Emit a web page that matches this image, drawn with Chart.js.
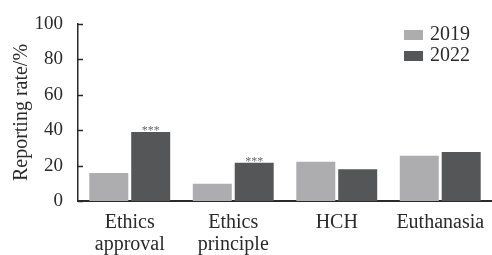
<!DOCTYPE html>
<html>
<head>
<meta charset="utf-8">
<script src="https://cdn.jsdelivr.net/npm/chart.js@4"></script>
<style>
html,body{margin:0;padding:0;background:#fff;}
#wrap{width:492px;height:255px;position:relative;}
</style>
</head>
<body>
<div id="wrap"><canvas id="c" width="492" height="255"></canvas></div>
<script>
const categories = [["Ethics","approval"],["Ethics","principle"],"HCH","Euthanasia"];
const seriesNames = ["2019","2022"];
const values2019 = [15.8, 9.8, 22.2, 25.6];
const values2022 = [39.0, 21.6, 18.0, 27.7];
const significance2022 = ["***","***","",""];
const yTicks = [0,20,40,60,80,100];

const colors = ["#adadaf","#555658"];
const FONT = "'Liberation Serif', 'Times New Roman', serif";
const TEXT = "#2a2a2a";

const customPlugin = {
  id: 'custom',
  afterDatasetsDraw(chart) {
    const ctx = chart.ctx;
    const ys = chart.scales.y;
    const area = chart.chartArea;
    ctx.save();
    ctx.strokeStyle = "#2a2a2a";
    ctx.lineWidth = 1.5;
    yTicks.forEach(v => {
      const py = Math.round(ys.getPixelForValue(v)) + 0.5;
      ctx.beginPath();
      ctx.moveTo(area.left, py);
      ctx.lineTo(area.left + 5, py);
      ctx.stroke();
    });
    const meta = chart.getDatasetMeta(1);
    ctx.fillStyle = "#6a6a6a";
    ctx.font = "12px " + FONT;
    ctx.textAlign = "center";
    ctx.textBaseline = "alphabetic";
    meta.data.forEach((bar, i) => {
      if (significance2022[i]) ctx.fillText(significance2022[i], bar.x, bar.y + 2);
    });
    ctx.font = "20px " + FONT;
    ctx.textAlign = "left";
    ctx.textBaseline = "middle";
    chart.data.datasets.forEach((ds, i) => {
      const y0 = 30 + i * 21;
      ctx.fillStyle = ds.backgroundColor;
      ctx.fillRect(404, y0, 19, 10);
      ctx.fillStyle = TEXT;
      ctx.fillText(ds.label, 430, y0 + 5);
    });
    ctx.restore();
  }
};

new Chart(document.getElementById('c'), {
  type: 'bar',
  data: {
    labels: categories,
    datasets: [
      { label: seriesNames[0], data: values2019, backgroundColor: colors[0] },
      { label: seriesNames[1], data: values2022, backgroundColor: colors[1] }
    ]
  },
  options: {
    responsive: false,
    animation: false,
    devicePixelRatio: 1,
    layout: { padding: { top: 24, right: 0, bottom: 0, left: 0 } },
    categoryPercentage: 0.81,
    barPercentage: 0.93,
    plugins: { legend: { display: false }, tooltip: { enabled: false } },
    scales: {
      x: {
        grid: { display: false },
        border: { display: true, color: "#2a2a2a", width: 2 },
        ticks: { color: TEXT, font: { family: FONT, size: 20, lineHeight: 1.1 }, padding: 3, maxRotation: 0, autoSkip: false },
        afterFit(s) { s.height = 54; }
      },
      y: {
        min: 0, max: 100,
        grid: { display: false },
        border: { display: true, color: "#2a2a2a", width: 1.5 },
        ticks: { stepSize: 20, color: TEXT, font: { family: FONT, size: 19 }, padding: 7 },
        title: { display: true, text: "Reporting rate/%", color: TEXT, font: { family: FONT, size: 20 }, padding: { top: 10, bottom: 0 } },
        afterFit(s) { s.width = 78; }
      }
    }
  },
  plugins: [customPlugin]
});
</script>
</body>
</html>
